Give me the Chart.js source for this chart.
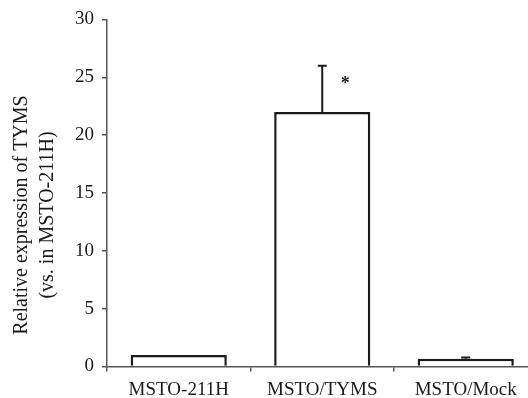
<!DOCTYPE html>
<html lang="en">
  <head>
    <meta charset="UTF-8" />
    <title>TYMS expression</title>
    <style>
      html, body { margin: 0; padding: 0; background: #fff; overflow: hidden; }
      #wrap { width: 540px; height: 398px; }
    </style>
  </head>
  <body>
    <div id="wrap"><canvas id="myChart" width="540" height="398"></canvas></div>
    <script src="https://cdn.jsdelivr.net/npm/chart.js"></script>
    <script>
      var labels = ["MSTO-211H", "MSTO/TYMS", "MSTO/Mock"];
      var values = [1.0, 22.0, 0.68];
      var errors = [0.02, 4.0, 0.1];
      var yTicks = [0, 5, 10, 15, 20, 25, 30];
      var titleLines = ["Relative expression of TYMS", "(vs. in MSTO-211H)"];
      var starIndex = 1;
      var starValue = 24.7;

      var serif = "'Liberation Serif', 'Times New Roman', serif";
      var ink = "#1a1a1a";
      var axisColor = "#555";

      // error bars (one-sided, top only) + significance star + y title
      var extras = {
        id: "extras",
        afterDatasetsDraw: function (chart) {
          var ctx = chart.ctx;
          var y = chart.scales.y;
          var x = chart.scales.x;
          var meta = chart.getDatasetMeta(0);
          ctx.save();
          ctx.strokeStyle = ink;
          ctx.lineWidth = 2;
          meta.data.forEach(function (bar, i) {
            var top = y.getPixelForValue(values[i] + errors[i]);
            if (bar.y - top < 1) return;
            ctx.beginPath();
            ctx.moveTo(bar.x, bar.y);
            ctx.lineTo(bar.x, top);
            ctx.moveTo(bar.x - 4.5, top);
            ctx.lineTo(bar.x + 4.5, top);
            ctx.stroke();
          });
          var sx = x.getPixelForValue(starIndex) + 23;
          var sy = y.getPixelForValue(starValue);
          ctx.fillStyle = ink;
          ctx.font = "bold 18px " + serif;
          ctx.textAlign = "center";
          ctx.textBaseline = "middle";
          ctx.fillText("*", sx, sy + 4);

          ctx.font = "20px " + serif;
          ctx.translate(22, 215);
          ctx.rotate(-Math.PI / 2);
          ctx.fillText(titleLines[0], 0, 0);
          ctx.fillText(titleLines[1], 0, 26);
          ctx.restore();
        },
      };

      var config = {
        type: "bar",
        data: {
          labels: labels,
          datasets: [
            {
              data: values,
              backgroundColor: "#ffffff",
              borderColor: ink,
              borderWidth: 2.5,
              categoryPercentage: 1.0,
              barPercentage: 0.67,
            },
          ],
        },
        options: {
          responsive: false,
          animation: false,
          layout: { padding: { top: 16, right: 2.5, left: 0, bottom: 0 } },
          plugins: { legend: { display: false }, tooltip: { enabled: false } },
          scales: {
            x: {
              grid: { drawOnChartArea: false, tickLength: 5, color: axisColor, lineWidth: 1.5 },
              border: { color: axisColor, width: 1.5 },
              ticks: { font: { family: serif, size: 19 }, color: ink, padding: 7, maxRotation: 0 },
              afterFit: function (s) { s.height = 31.5; },
            },
            y: {
              min: 0,
              max: 30,
              afterBuildTicks: function (s) {
                s.ticks = yTicks.map(function (v) { return { value: v }; });
              },
              grid: { drawOnChartArea: false, tickLength: 5, color: axisColor, lineWidth: 1.5 },
              border: { color: axisColor, width: 1.5 },
              ticks: { font: { family: serif, size: 19 }, color: ink, padding: 8 },
              afterFit: function (s) { s.width = 107; },
            },
          },
        },
        plugins: [extras],
      };

      var myChart = new Chart(document.getElementById("myChart"), config);
    </script>
  </body>
</html>
